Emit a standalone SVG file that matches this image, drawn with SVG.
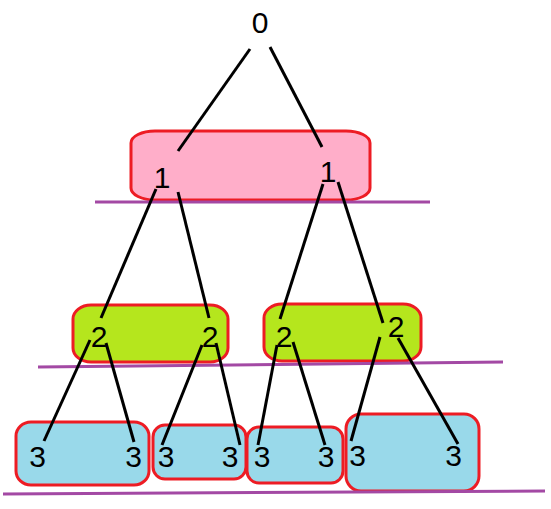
<svg xmlns="http://www.w3.org/2000/svg" width="551" height="509" viewBox="0 0 551 509">
<style>
.box{stroke:#ed1c24;stroke-width:3}
.pink{fill:#ffaec9}
.green{fill:#b5e61d}
.blue{fill:#99d9ea}
.lvl{stroke:#a349a4;stroke-width:3;fill:none}
.edge{stroke:#000;stroke-width:3;stroke-linecap:butt;fill:none}
text{font-family:"Liberation Sans",Arial,sans-serif;font-size:30px;fill:#000;text-anchor:middle}
</style>
<rect width="551" height="509" fill="#fff"/>
<g id="groups">
<rect id="g1" class="box pink" x="131" y="131" width="239" height="69" rx="24" ry="12"/>
<rect id="g2a" class="box green" x="73" y="305" width="155" height="57" rx="18" ry="14"/>
<rect id="g2b" class="box green" x="264" y="304" width="157" height="57" rx="18" ry="14"/>
<rect id="g3a" class="box blue" x="16" y="422" width="133" height="63" rx="15" ry="14"/>
<rect id="g3b" class="box blue" x="153" y="425" width="93" height="54" rx="12" ry="12"/>
<rect id="g3c" class="box blue" x="247" y="427" width="96" height="56" rx="12" ry="12"/>
<rect id="g3d" class="box blue" x="346" y="414" width="133" height="77" rx="15" ry="15"/>
</g>
<g id="levels">
<line class="lvl" x1="95" y1="202" x2="430" y2="202"/>
<line class="lvl" x1="38" y1="367" x2="503" y2="362"/>
<line class="lvl" x1="3" y1="494" x2="545" y2="491"/>
</g>
<g id="connectors">
<line class="edge" x1="250" y1="49" x2="178" y2="151"/>
<line class="edge" x1="270" y1="47" x2="322" y2="147"/>
<line class="edge" x1="156" y1="189" x2="101" y2="318"/>
<line class="edge" x1="178" y1="192" x2="209" y2="318"/>
<line class="edge" x1="323" y1="184" x2="280" y2="319"/>
<line class="edge" x1="338" y1="182" x2="383" y2="323"/>
<line class="edge" x1="90" y1="340" x2="44" y2="441"/>
<line class="edge" x1="106" y1="343" x2="134" y2="442"/>
<line class="edge" x1="202" y1="345" x2="162" y2="445"/>
<line class="edge" x1="216" y1="343" x2="240" y2="445"/>
<line class="edge" x1="277" y1="345" x2="258" y2="445"/>
<line class="edge" x1="293" y1="342" x2="325" y2="445"/>
<line class="edge" x1="380" y1="337" x2="351" y2="441"/>
<line class="edge" x1="398" y1="338" x2="458" y2="444"/>
</g>
<g id="n0"><text x="260" y="33">0</text></g>
<g id="n1a"><text x="162" y="188">1</text></g>
<g id="n1b"><text x="328" y="182">1</text></g>
<g id="n2a"><text x="99" y="347">2</text></g>
<g id="n2b"><text x="210" y="347">2</text></g>
<g id="n2c"><text x="284" y="347">2</text></g>
<g id="n2d"><text x="396" y="337">2</text></g>
<g id="n3a"><text x="37.5" y="467">3</text></g>
<g id="n3b"><text x="133.5" y="467">3</text></g>
<g id="n3c"><text x="166" y="467">3</text></g>
<g id="n3d"><text x="230" y="467">3</text></g>
<g id="n3e"><text x="262" y="467">3</text></g>
<g id="n3f"><text x="326" y="467">3</text></g>
<g id="n3g"><text x="357.5" y="466">3</text></g>
<g id="n3h"><text x="453.5" y="466">3</text></g>
</svg>
